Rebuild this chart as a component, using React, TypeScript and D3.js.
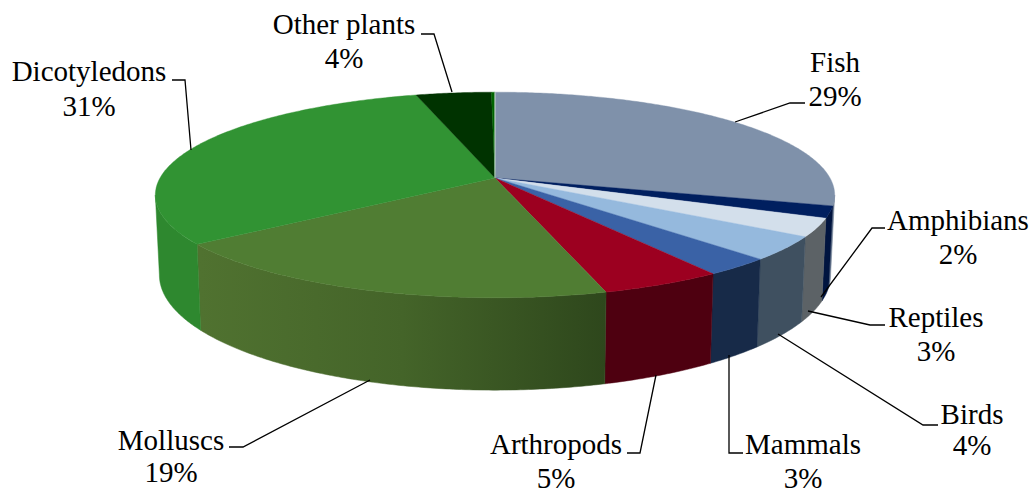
import React from "react";
import * as d3 from "d3";

const categories = ["Fish", "Amphibians", "Reptiles", "Birds", "Mammals", "Arthropods", "Molluscs", "Dicotyledons", "Other plants", ""];
const shares = [29.3, 1.85, 2.85, 3.7, 2.8, 5.0, 19.3, 30.8, 4.2, 0.2];
const shownPercent = ["29%", "2%", "3%", "4%", "3%", "5%", "19%", "31%", "4%", ""];
const topColors = ["#7f91aa", "#001f5f", "#d3dfeb", "#95b9dd", "#3a62a6", "#9c0020", "#507d33", "#319333", "#003300", "#006400"];
const sideColors = ["#6d7c92", "#00143f", "#5c6266", "#3f5060", "#172a48", "#4e0010", "url(#mollusc)", "#2e882f", "#002200", "#004400"];

// label centre x, first baseline y, second baseline y
const labelX = [835, 958, 936, 972, 803, 556, 171, 89, 344];
const labelY1 = [72, 230, 327, 424, 454, 454, 450, 81, 34];
const labelY2 = [106, 264, 361, 455, 488, 488, 482, 116, 68];
// leader polylines, in page pixels
const leaders: [number, number][][] = [
  [[735, 122], [790, 103], [805, 103]],
  [[821, 297], [872, 228], [885, 228]],
  [[808, 311], [870, 325], [885, 325]],
  [[778, 334], [923, 425], [938, 425]],
  [[729, 355], [729, 453], [743, 453]],
  [[656, 375], [640, 453], [627, 453]],
  [[370, 380], [243, 447], [229, 447]],
  [[191, 150], [185, 80], [172, 80]],
  [[452, 92], [434, 34], [421, 34]],
];

const W = 1033, H = 492;
const K = 0.165;
const topX = d3.scaleLinear().domain([-1, 1]).range([495 - 335, 495 + 335]);
const topY = d3.scaleLinear().domain([-1, 1]).range([178 - 100, 178 + 100]);
const botX = d3.scaleLinear().domain([-1, 1]).range([495 - 331, 495 + 331]);
const botY = d3.scaleLinear().domain([-1, 1]).range([256 - 112, 256 + 112]);

type P = [number, number];
const project = (sx: d3.ScaleLinear<number, number>, sy: d3.ScaleLinear<number, number>, t: number): P => {
  const w = 1 + K * Math.cos(t);
  return [sx(Math.sin(t) / w), sy(-Math.cos(t) / w)];
};
const pTop = (t: number) => project(topX, topY, t);
const pBot = (t: number) => project(botX, botY, t);
const samples = (a: number, b: number) => {
  const n = Math.max(2, Math.ceil((b - a) / 0.01));
  return d3.range(n + 1).map((i) => a + ((b - a) * i) / n);
};
const line = d3.line<P>();

const arcs = d3.pie<number>().sort(null).value((d) => d)(shares);
const apex: P = [topX(0), topY(0)];
// silhouette angles: where the projected rim is widest
const front0 = Math.acos(-K);
const front1 = 2 * Math.PI - front0;

export default function App() {
  return (
    <svg width={W} height={H} viewBox={`0 0 ${W} ${H}`} style={{ position: "absolute", left: 0, top: 0, background: "#fff" }}>
      <defs>
        <linearGradient id="mollusc" gradientUnits="userSpaceOnUse" x1={200} y1={0} x2={605} y2={0}>
          <stop offset="0" stopColor="#507230" />
          <stop offset="0.5" stopColor="#446429" />
          <stop offset="1" stopColor="#2e471c" />
        </linearGradient>
      </defs>
      {arcs.map((a, i) => {
        const s = Math.max(a.startAngle, front0);
        const e = Math.min(a.endAngle, front1);
        if (e <= s) return null;
        const ts = samples(s, e);
        const pts: P[] = [...ts.map(pTop), ...ts.slice().reverse().map(pBot)];
        return <path key={"s" + i} d={line(pts) + "Z"} fill={sideColors[i]} stroke={sideColors[i]} strokeWidth={0.5} />;
      })}
      {arcs.map((a, i) => {
        const pts: P[] = [apex, ...samples(a.startAngle, a.endAngle).map(pTop)];
        return <path key={"t" + i} d={line(pts) + "Z"} fill={topColors[i]} stroke={topColors[i]} strokeWidth={0.4} />;
      })}
      <path d={line([apex, pTop(0)]) as string} stroke="#dfe6ee" strokeWidth={1} fill="none" />
      {leaders.map((l, i) => (
        <path key={"l" + i} d={line(l) as string} fill="none" stroke="#000" strokeWidth={1.3} />
      ))}
      {categories.slice(0, 9).map((c, i) => (
        <g key={c} fontFamily="'Liberation Serif', serif" fontSize={29} fill="#000" textAnchor="middle">
          <text x={labelX[i]} y={labelY1[i]}>{c}</text>
          <text x={labelX[i]} y={labelY2[i]}>{shownPercent[i]}</text>
        </g>
      ))}
    </svg>
  );
}
